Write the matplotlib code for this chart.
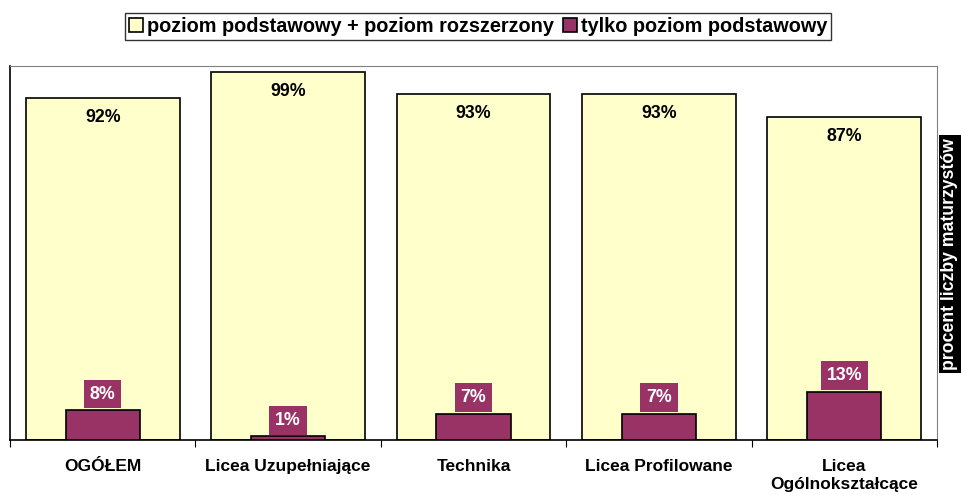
import matplotlib
matplotlib.use("Agg")
import matplotlib.pyplot as plt
import numpy as np

categories = ["OGÓŁEM", "Licea Uzupełniające", "Technika", "Licea Profilowane", "Licea\nOgólnokształcące"]
both_levels = [92, 99, 93, 93, 87]
basic_only = [8, 1, 7, 7, 13]
series_labels = ["poziom podstawowy + poziom rozszerzony", "tylko poziom podstawowy"]
ylabel_text = "procent liczby maturzystów"

YELLOW = "#FFFFCC"
PURPLE = "#993366"

plt.rcParams["font.family"] = ["Liberation Sans", "DejaVu Sans"]
plt.rcParams["font.weight"] = "bold"

fig = plt.figure(figsize=(9.62, 4.95), dpi=100)
ax = fig.add_axes([10 / 962, 55 / 495, 927 / 962, 374 / 495])

x = np.arange(len(categories))
b1 = ax.bar(x, both_levels, 0.83, color=YELLOW, edgecolor="black", linewidth=1.2,
            label=series_labels[0], zorder=2)
b2 = ax.bar(x, basic_only, 0.40, color=PURPLE, edgecolor="black", linewidth=1.2,
            label=series_labels[1], zorder=3)

for xi, v in zip(x, both_levels):
    ax.annotate(f"{v}%", (xi, v), xytext=(0, -8), textcoords="offset points",
                ha="center", va="top", fontsize=12.8, fontweight="bold", color="black")
for xi, v in zip(x, basic_only):
    ax.annotate(f"{v}%", (xi, v), xytext=(0, 5.5), textcoords="offset points",
                ha="center", va="bottom", fontsize=12.8, fontweight="bold", color="white",
                bbox=dict(boxstyle="square,pad=0.33", facecolor=PURPLE, edgecolor="none"),
                zorder=4)

ax.set_xlim(-0.5, len(categories) - 0.5)
ax.set_ylim(0, 100.6)
ax.set_yticks([])
ax.set_xticks(np.arange(len(categories) + 1) - 0.5, minor=False)
ax.set_xticklabels([])
ax.set_xticks(x, minor=True)
ax.set_xticklabels(categories, minor=True, fontsize=12.5, fontweight="bold", linespacing=1.25)
ax.tick_params(axis="x", which="major", length=5, direction="out", color="black")
ax.tick_params(axis="x", which="minor", length=0, pad=14)

for side in ("top", "right"):
    ax.spines[side].set_color("#808080")
for side in ("left", "bottom"):
    ax.spines[side].set_color("black")
    ax.spines[side].set_linewidth(1.2)

leg = fig.legend(handles=[b1, b2], loc="upper center", bbox_to_anchor=(478 / 962, 1 - 13 / 495),
                 ncol=2, frameon=True, fancybox=False, edgecolor="black",
                 prop={"size": 14.3, "weight": "bold"}, handlelength=0.7, handleheight=0.7,
                 handletextpad=0.2, columnspacing=0.45, borderpad=0.2, borderaxespad=0)
leg.get_frame().set_linewidth(1.0)

fig.text(950 / 962, 1 - 254 / 495, ylabel_text, rotation=90, ha="center", va="center",
         fontsize=12.7, fontweight="bold", color="white",
         bbox=dict(boxstyle="square,pad=0.15", facecolor="black", edgecolor="none"))

fig.savefig("out.png", dpi=100, facecolor="white")
